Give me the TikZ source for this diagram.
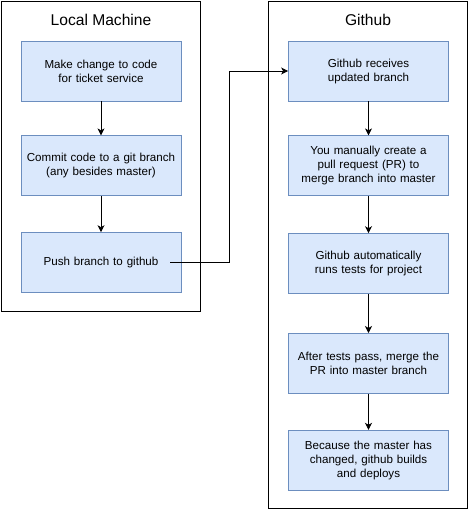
\documentclass[tikz,border=0pt]{standalone}
\usepackage{fontspec}
\setmainfont{Liberation Sans}
\usetikzlibrary{arrows, arrows.meta, positioning}

\definecolor{boxfill}{RGB}{218,232,252}
\definecolor{boxline}{RGB}{108,142,191}

\begin{document}
\begin{tikzpicture}[x=1pt, y=-1pt, ->, >={Stealth[length=7pt, width=7pt, inset=2pt]}, line width=0.8pt,
		frame/.style={draw, rectangle, anchor=north west, inner sep=0pt},
		stepbox/.style={draw=boxline, fill=boxfill, rectangle, minimum width=160pt, minimum height=60pt, text width=154pt, align=center, font=\fontsize{11.6}{14}\selectfont, inner sep=0pt},
		title/.style={font=\fontsize{15.6}{18}\selectfont}]

			\useasboundingbox (0,0) rectangle (469,512);

				% containers
				\node [frame, minimum width=199pt, minimum height=310pt]	(local)	at (1,1)	{};
				\node [frame, minimum width=199pt, minimum height=507pt]	(hub)	at (268,1)	{};
				\node [title]	(localtitle)	at (101,20)		{Local Machine};
				\node [title]	(hubtitle)		at (368,20)		{Github};

				% local steps
				\node [stepbox]	(change)		at (101,71)						{Make change to code\\ for ticket service};
				\node [stepbox]	(commit)		[below = 34pt of change]		{Commit code to a git branch\\ (any besides master)};
				\node [stepbox]	(push)			[below = 36pt of commit]		{Push branch to github};

				% github steps
				\node [stepbox]	(receive)		at (368.5,71)					{Github receives\\ updated branch};
				\node [stepbox]	(pullreq)		[below = 34pt of receive]		{You manually create a\\ pull request (PR) to\\ merge branch into master};
				\node [stepbox]	(tests)			[below = 37pt of pullreq]		{Github automatically\\ runs tests for project};
				\node [stepbox]	(merge)			[below = 39pt of tests]			{After tests pass, merge the\\ PR into master branch};
				\node [stepbox]	(deploy)		[below = 36pt of merge]			{Because the master has\\ changed, github builds\\ and deploys};

				\coordinate (bend) at (229,0);

				\draw (change) -- (commit);
				\draw (commit) -- (push);
				\draw [-] ([xshift=-11pt]push.east) -- (bend |- push.east);
				\draw (bend |- push.east) |- (receive.west);
				\draw (receive) -- (pullreq);
				\draw (pullreq) -- (tests);
				\draw (tests) -- (merge);
				\draw (merge) -- (deploy);

			\end{tikzpicture}
\end{document}
